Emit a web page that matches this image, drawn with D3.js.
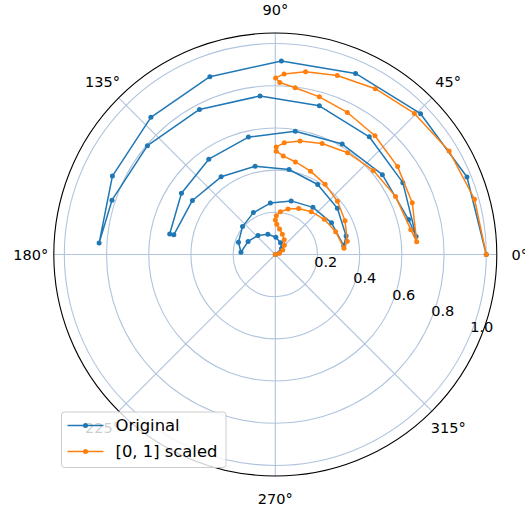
<!DOCTYPE html>
<html>
<head>
<meta charset="utf-8">
<script src="https://cdn.jsdelivr.net/npm/d3@7"></script>
<style>
  html, body { margin: 0; padding: 0; background: #fff; }
  svg { display: block; font-family: "DejaVu Sans", sans-serif; }
</style>
</head>
<body>
<svg id="chart" width="525" height="514"></svg>
<script>
// ---- data ----
const radii = [1.000,0.980,0.959,0.939,0.918,0.898,0.878,0.857,0.837,0.816,
               0.796,0.776,0.755,0.735,0.714,0.694,0.673,0.653,0.633,0.612,
               0.592,0.571,0.551,0.531,0.510,0.490,0.469,0.449,0.429,0.408,
               0.388,0.367,0.347,0.327,0.306,0.286,0.265,0.245,0.224,0.204,
               0.184,0.163,0.143,0.122,0.102,0.082,0.061,0.041,0.020,0.000];
const thetaOriginal = [0,22.0,44.1,66.1,88.2,110.2,132.2,154.3,176.3,161.6,
                       139.6,117.6,95.5,73.5,51.4,29.4,7.3,14.7,36.7,58.8,
                       80.8,102.9,124.9,146.9,169.0,169.0,146.9,124.9,102.9,80.8,
                       58.8,36.7,14.7,7.3,29.4,51.4,73.5,95.5,117.6,139.6,
                       161.6,176.3,154.3,132.2,110.2,88.2,66.1,44.1,22.0,0];
const thetaScaled = [0,15.5,30.8,45.4,58.9,70.9,80.6,87.2,89.9,88.5,
                     83.2,74.4,63.1,50.0,35.7,20.7,5.2,10.4,25.8,40.6,
                     54.6,67.1,77.7,85.4,89.5,89.5,85.4,77.7,67.1,54.6,
                     40.6,25.8,10.4,5.2,20.7,35.7,50.0,63.1,74.4,83.2,
                     88.5,89.9,87.2,80.6,70.9,58.9,45.4,30.8,15.5,0];
const seriesNames = ["Original", "[0, 1] scaled"];
const seriesColors = ["#1f77b4", "#ff7f0e"];
const rTicks = [0.2, 0.4, 0.6, 0.8, 1.0];
const rTickLabels = ["0.2", "0.4", "0.6", "0.8", "1.0"];
const thetaTicks = [0, 45, 90, 135, 180, 225, 270, 315];
const thetaTickLabels = ["0°", "45°", "90°", "135°", "180°", "225°", "270°", "315°"];

// ---- layout ----
const cx = 275.3, cy = 254.5, rMax = 1.05, Rpx = 221.5;
const fontSize = 14.5, legendFont = 16.4;
const svg = d3.select("#chart");
const r = d3.scaleLinear().domain([0, rMax]).range([0, Rpx]);
const ang = d => (90 - d) * Math.PI / 180;   // math degrees -> d3 radial angle
const g = svg.append("g").attr("transform", `translate(${cx},${cy})`);

// grid
const gridColor = "#b0c4de";
g.selectAll("circle.grid").data(rTicks).join("circle")
  .attr("r", d => r(d)).attr("fill", "none")
  .attr("stroke", gridColor).attr("stroke-width", 1.1);
g.selectAll("line.spoke").data(thetaTicks).join("line")
  .attr("x1", 0).attr("y1", 0)
  .attr("x2", d => Rpx * Math.sin(ang(d)))
  .attr("y2", d => -Rpx * Math.cos(ang(d)))
  .attr("stroke", gridColor).attr("stroke-width", 1.1);

// data
const datasets = [thetaOriginal, thetaScaled].map(th => th.map((t, i) => ({t, r: radii[i]})));
const line = d3.lineRadial().angle(d => ang(d.t)).radius(d => r(d.r));
datasets.forEach((ds, k) => {
  g.append("path").datum(ds).attr("d", line)
    .attr("fill", "none").attr("stroke", seriesColors[k])
    .attr("stroke-width", 1.5).attr("stroke-linejoin", "round");
  g.selectAll(null).data(ds).join("circle")
    .attr("cx", d => r(d.r) * Math.sin(ang(d.t)))
    .attr("cy", d => -r(d.r) * Math.cos(ang(d.t)))
    .attr("r", 2.5).attr("fill", seriesColors[k]);
});

// outer spine
g.append("circle").attr("r", Rpx).attr("fill", "none")
  .attr("stroke", "#000").attr("stroke-width", 1.1);

// theta labels
const labR = 244.5;
g.selectAll("text.theta").data(thetaTicks).join("text")
  .attr("x", d => labR * Math.cos(d * Math.PI / 180))
  .attr("y", d => -labR * Math.sin(d * Math.PI / 180) + fontSize * 0.3645)
  .attr("text-anchor", "middle").attr("font-size", fontSize)
  .text((d, i) => thetaTickLabels[i]);

// radial labels at -22.5 deg
const rl = 22.5 * Math.PI / 180;
g.selectAll("text.rlab").data(rTicks).join("text")
  .attr("x", d => r(d) * Math.cos(rl))
  .attr("y", d => r(d) * Math.sin(rl) - 3.4)
  .attr("text-anchor", "start").attr("font-size", fontSize)
  .text((d, i) => rTickLabels[i]);

// legend
const lg = svg.append("g");
lg.append("rect").attr("x", 61.5).attr("y", 412).attr("width", 164.5).attr("height", 55.5)
  .attr("rx", 3).attr("fill", "#fff").attr("fill-opacity", 0.8)
  .attr("stroke", "#cccccc").attr("stroke-width", 1);
seriesNames.forEach((name, k) => {
  const y = 425.5 + k * 26;
  lg.append("line").attr("x1", 67.5).attr("x2", 103.5).attr("y1", y).attr("y2", y)
    .attr("stroke", seriesColors[k]).attr("stroke-width", 1.5);
  lg.append("circle").attr("cx", 85.5).attr("cy", y).attr("r", 2.5).attr("fill", seriesColors[k]);
  lg.append("text").attr("x", 115.5).attr("y", y + legendFont * 0.3645).attr("font-size", legendFont).text(name);
});
</script>
</body>
</html>
